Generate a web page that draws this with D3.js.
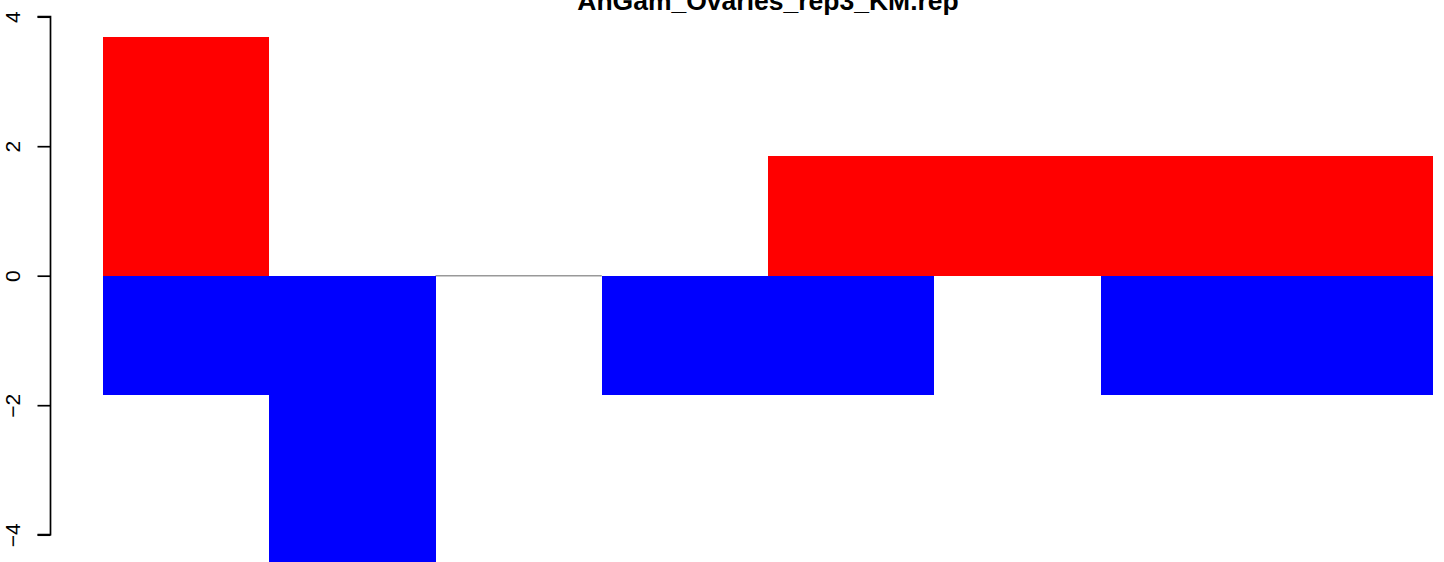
<!DOCTYPE html>
<html><head><meta charset="utf-8">
<script src="https://cdn.jsdelivr.net/npm/d3@7"></script>
<style>body{margin:0;background:#fff}svg{display:block}</style>
</head><body>
<svg id="c" width="1444" height="562"></svg>
<script>
const title = "AnGam_Ovaries_rep3_KM.rep";
const categories = ["1","2","3","4","5","6","7","8"];
const upValues = [3.69, 0, 0, 0, 1.85, 1.85, 1.85, 1.85];
const downValues = [-1.85, -4.45, 0, -1.85, -1.85, 0, -1.85, -1.85];
const yTicks = [-4, -2, 0, 2, 4];

const svg = d3.select("#c");
const x = d3.scaleBand().domain(categories).range([103, 1433]).padding(0);
const y = d3.scaleLinear().domain([-4, 4]).range([534.7, 16.7]);

// zero-height bars drawn as grey line
categories.forEach((c, i) => {
  if (upValues[i] === 0 && downValues[i] === 0) {
    svg.append("line")
      .attr("x1", x(c)).attr("x2", x(c) + x.bandwidth())
      .attr("y1", y(0)).attr("y2", y(0))
      .attr("stroke", "#999").attr("stroke-width", 1.5);
  }
});

svg.selectAll("rect.up").data(categories).enter().append("rect")
  .attr("x", d => x(d)).attr("width", x.bandwidth())
  .attr("y", (d, i) => y(Math.max(0, upValues[i])))
  .attr("height", (d, i) => Math.abs(y(upValues[i]) - y(0)))
  .attr("fill", "#ff0000").attr("shape-rendering", "crispEdges");

svg.selectAll("rect.down").data(categories).enter().append("rect")
  .attr("x", d => x(d)).attr("width", x.bandwidth())
  .attr("y", y(0))
  .attr("height", (d, i) => Math.abs(y(downValues[i]) - y(0)))
  .attr("fill", "#0000ff").attr("shape-rendering", "crispEdges");

const axis = d3.axisLeft(y).tickValues(yTicks).tickSize(13).tickPadding(0)
  .tickFormat(d => d < 0 ? "\u2212" + Math.abs(d) : String(d));
const g = svg.append("g").attr("transform", "translate(50.5,0)").call(axis);
g.select(".domain").attr("stroke", "#000").attr("stroke-width", 1.7)
  .attr("d", `M-13,${y(4)}H0V${y(-4)}H-13`);
g.selectAll(".tick line").attr("stroke", "#000").attr("stroke-width", 1.7);
g.selectAll(".tick text")
  .attr("x", null).attr("dy", null)
  .attr("transform", "translate(-30.5,0) rotate(-90)")
  .attr("text-anchor", "middle")
  .attr("font-family", "Liberation Sans, Arial, sans-serif")
  .attr("font-size", 21).attr("fill", "#000");

svg.append("text").attr("x", 768).attr("y", 9.5)
  .attr("text-anchor", "middle")
  .attr("font-family", "Liberation Sans, Arial, sans-serif")
  .attr("font-weight", "bold").attr("font-size", 26.5)
  .text(title);
</script>
</body></html>
